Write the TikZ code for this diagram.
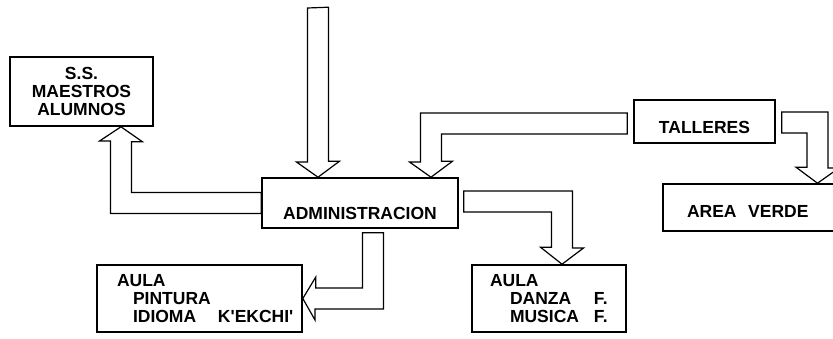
\documentclass[tikz,border=0pt]{standalone}
\usepackage{fontspec}
\usepackage{tikz}
\usetikzlibrary{calc}
\newfontfamily\lettering{Liberation Sans}
\newcommand{\planfont}{\lettering\bfseries\fontsize{17.5}{18}\selectfont}

\begin{document}
\begin{tikzpicture}[
    x=1pt,
    y=-1pt,
    every node/.style={font=\planfont},
    panel/.style={draw, line width=1.6pt, inner sep=0pt},
    blockarrow/.style={line width=1.2pt, line join=miter}
  ]
  \useasboundingbox (0,0) rectangle (833,338);
  %
  \node[panel, minimum width=143pt, minimum height=69pt, align=center] (ss) at (81.5,91.5) {S.S.\\MAESTROS\\ALUMNOS};
  \node[panel, minimum width=196pt, text height=41pt, text depth=9pt] (admin) at (360,203) {ADMINISTRACION};
  \node[panel, minimum width=141pt, text height=33pt, text depth=10pt] (talleres) at (704.5,121.5) {TALLERES};
  \node[panel, text width=187pt, align=left, text height=33pt, text depth=14pt] (verde) at (756.5,207.5) {\hspace*{24pt}AREA~~VERDE};
  \node[panel, text width=205pt, minimum height=67pt, align=left] (pintura) at (199.5,298.5) {\hspace*{20pt}AULA\\\hspace*{36pt}PINTURA\\\hspace*{36pt}\makebox[85pt][l]{IDIOMA}K\textquotesingle EKCHI\textquotesingle};
  \node[panel, text width=154pt, minimum height=67pt, align=left] (danza) at (549,298.5) {\hspace*{18pt}AULA\\\hspace*{38pt}\makebox[84pt][l]{DANZA}F.\\\hspace*{38pt}\makebox[84pt][l]{MUSICA}F.};

  %
  \coordinate (inflow) at (318,8);
  \draw[blockarrow] (inflow) ++(-10.5,0) -- ++(0,154) -- ++(-11,0) -- (admin.north -| inflow) -- ++(21.5,-16) -- ++(-11,0) -- ++(0,-154) -- cycle;

  %
  \draw[blockarrow] ($(admin.west)+(0,10.5)$) -| (110.5,141) -- ++(-11,0) -- (ss.south -| 121,0) -- ++(21.5,15) -- ++(-11,0) |- ($(admin.west)+(0,-10.5)$) -- cycle;

  %
  \draw[blockarrow] ($(talleres.west)+(-6,-8.5)$) -| (420.5,162) -- ++(-11,0) -- (admin.north -| 431,0) -- ++(21.5,-16) -- ++(-11,0) |- ($(talleres.west)+(-6,12.5)$) -- cycle;
  \draw[blockarrow] ($(talleres.east)+(6,-9.5)$) -| (828,168) -- ++(11,0) -- (verde.north -| 817.5,0) -- ++(-21.5,-16) -- ++(11,0) |- ($(talleres.east)+(6,11.5)$) -- cycle;

  %
  \draw[blockarrow] ($(admin.south)+(23.5,4)$) |- (315,309) -- ++(0,11) -- (pintura.east) -- ++(13,-21.5) -- ++(0,11) -| ($(admin.south)+(2.5,4)$) -- cycle;
  \draw[blockarrow] ($(admin.east)+(5,-12)$) -| (572.5,248) -- ++(11,0) -- (danza.north -| 562,0) -- ++(-21.5,-17) -- ++(11,0) |- ($(admin.east)+(5,9)$) -- cycle;
\end{tikzpicture}
\end{document}
